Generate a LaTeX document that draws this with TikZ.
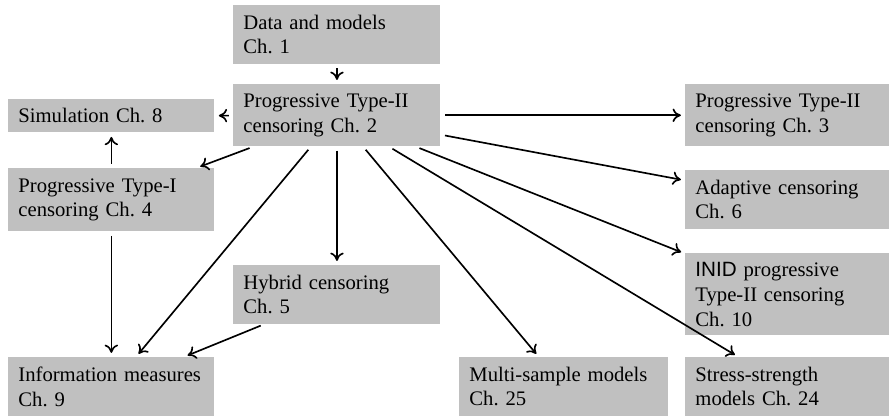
\documentclass[tikz,border=0pt]{standalone}
\usepackage{fontspec}
\setmainfont{Liberation Serif}
\setsansfont{Liberation Sans}
\usetikzlibrary{arrows.meta}
\definecolor{BoxGray}{HTML}{C0C0C0}
\frenchspacing

\begin{document}
\begin{tikzpicture}[>={To[length=4pt,width=6.5pt]}, font=\normalsize,
  chap/.style={fill=BoxGray, anchor=north west, align=left, inner xsep=0.17cm, inner ysep=0pt, text width=3.18cm, minimum height=0.99cm},
  rchap/.style={chap, text width=3.13cm},
  link/.style={->, thick, shorten <=2pt, shorten >=2pt}]
\useasboundingbox (0,0) rectangle (15.113,-7.072);
\node[chap] (data) at (3.961,-0.085) {Data and models\\Ch. 1};
\node[chap, minimum height=1.05cm] (prog2) at (3.961,-1.428) {Progressive Type-II\\censoring Ch. 2};
\node[chap, text width=3.16cm, minimum height=0.56cm] (sim) at (0.136,-1.683) {Simulation Ch. 8};
\node[chap, text width=3.16cm, minimum height=1.07cm] (prog1) at (0.136,-2.856) {Progressive Type-I\\censoring Ch. 4};
\node[chap] (hybrid) at (3.961,-4.505) {Hybrid censoring\\Ch. 5};
\node[chap, text width=3.16cm] (info) at (0.136,-6.069) {Information measures\\Ch. 9};
\node[rchap, minimum height=1.05cm] (prog3) at (11.645,-1.428) {Progressive Type-II\\censoring Ch. 3};
\node[rchap] (adapt) at (11.645,-2.89) {Adaptive censoring\\Ch. 6};
\node[rchap, minimum height=1.39cm] (inid) at (11.645,-4.301) {\textsf{INID} progressive\\Type-II censoring\\Ch. 10};
\node[chap, text width=3.2cm] (multi) at (7.803,-6.069) {Multi-sample models\\Ch. 25};
\node[rchap] (stress) at (11.645,-6.069) {Stress-strength\\models Ch. 24};
\draw[link] (data) -- (prog2);
\draw[link] (prog2) -- (sim);
\draw[link] (prog2) -- (prog3);
\draw[link] (prog2) -- (adapt);
\draw[link] (prog2) -- (inid);
\draw[link] (prog2) -- (prog1);
\draw[link] (prog2) -- (hybrid);
\draw[link] (prog2) -- (info);
\draw[link] (prog2) -- (multi);
\draw[link] (prog2) -- (stress);
\draw[link] (prog1) -- (sim);
\draw[link] (prog1) -- (info);
\draw[link] (hybrid) -- (info);
\end{tikzpicture}
\end{document}
